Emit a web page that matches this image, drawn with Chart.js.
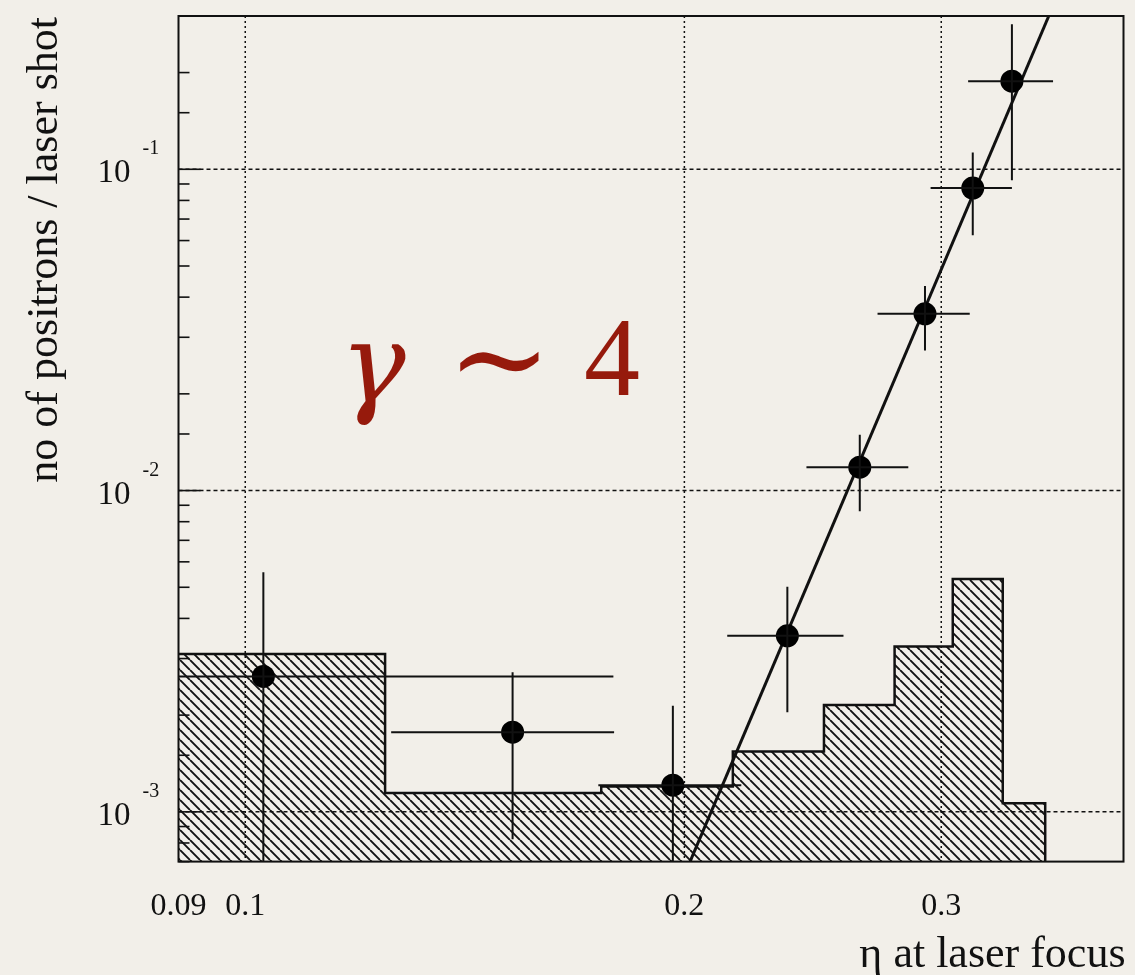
<!DOCTYPE html>
<html lang="en">
  <head>
    <meta charset="UTF-8" />
    <title>Positrons per laser shot vs eta</title>
    <script src="https://cdn.jsdelivr.net/npm/chart.js"></script>
    <style>
      html, body { margin: 0; padding: 0; background: #f2efe9; }
      canvas { display: block; }
    </style>
  </head>
  <body>
    <canvas id="chartEta" width="1135" height="975"></canvas>

    <script>
      // axis ranges and tick labels
      var xMin = 0.09, xMax = 0.4;
      var yMin = 0.0007, yMax = 0.3;
      var xTickValues = [0.09, 0.1, 0.2, 0.3];
      var xTickLabels = ['0.09', '0.1', '0.2', '0.3'];
      var xGridValues = [0.1, 0.2, 0.3];
      var yTickValues = [0.001, 0.01, 0.1];
      var yTickExponents = ['-3', '-2', '-1'];

      // measured points (eta, positrons per shot) with error bar ends
      var eta = [0.1029, 0.1525, 0.1964, 0.2353, 0.2638, 0.2924, 0.3153, 0.3354];
      var positrons = [0.00264, 0.00177, 0.00121, 0.00353, 0.01182, 0.0355, 0.0874, 0.188];
      var etaLow = [0.085, 0.1259, 0.1746, 0.2140, 0.2425, 0.2713, 0.2950, 0.3130];
      var etaHigh = [0.1788, 0.1790, 0.2188, 0.2571, 0.2848, 0.3138, 0.3354, 0.3579];
      var posLow = [0.0005, 0.000822, 0.0005, 0.00204, 0.00862, 0.0273, 0.0623, 0.0924];
      var posHigh = [0.00557, 0.00272, 0.00214, 0.00502, 0.01491, 0.0433, 0.1127, 0.2829];

      // background histogram (hatched): bin edges and contents
      var bgEdges = [0.085, 0.1247, 0.1754, 0.2159, 0.2493, 0.2787, 0.3055, 0.3306, 0.3535];
      var bgValues = [0.00310, 0.001144, 0.001199, 0.001541, 0.00215, 0.00327, 0.00531, 0.001064];

      // fit line end points
      var fitEta = [0.2018, 0.3555];
      var fitPos = [0.0007, 0.30];

      var serif = "'Liberation Serif', 'Times New Roman', serif";

      // hatch pattern for the histogram
      function hatch() {
        var s = 10;
        var c = document.createElement('canvas');
        c.width = s; c.height = s;
        var p = c.getContext('2d');
        p.strokeStyle = '#111';
        p.lineWidth = 1.9;
        p.beginPath();
        for (var k = -1; k <= 1; k++) {
          p.moveTo(k * s, 0);
          p.lineTo(k * s + s, s);
        }
        p.stroke();
        return p.createPattern(c, 'repeat');
      }

      var histData = bgEdges.map(function (e, i) {
        return { x: e, y: i < bgValues.length ? bgValues[i] : 0.0001 };
      });
      var pointData = eta.map(function (e, i) { return { x: e, y: positrons[i] }; });
      var fitData = fitEta.map(function (e, i) { return { x: e, y: fitPos[i] }; });

      function line(ctx, x1, y1, x2, y2) {
        ctx.beginPath();
        ctx.moveTo(x1, y1);
        ctx.lineTo(x2, y2);
        ctx.stroke();
      }

      var decorations = {
        id: 'decorations',
        beforeDatasetsDraw: function (chart) {
          var ctx = chart.ctx, a = chart.chartArea;
          var x = chart.scales.x, y = chart.scales.y;
          ctx.save();
          ctx.strokeStyle = '#111';
          ctx.lineWidth = 1.5;
          ctx.setLineDash([2, 3]);
          xGridValues.forEach(function (v) {
            var px = x.getPixelForValue(v);
            line(ctx, px, a.top, px, a.bottom);
          });
          ctx.setLineDash([4, 3]);
          yTickValues.forEach(function (v) {
            var py = y.getPixelForValue(v);
            line(ctx, a.left, py, a.right, py);
          });
          ctx.restore();
        },
        afterDatasetsDraw: function (chart) {
          var ctx = chart.ctx, a = chart.chartArea;
          var x = chart.scales.x, y = chart.scales.y;
          ctx.save();
          ctx.beginPath();
          ctx.rect(a.left, a.top, a.right - a.left, a.bottom - a.top);
          ctx.clip();
          ctx.strokeStyle = '#111';
          ctx.lineWidth = 2;
          eta.forEach(function (e, i) {
            var px = x.getPixelForValue(e), py = y.getPixelForValue(positrons[i]);
            line(ctx, x.getPixelForValue(etaLow[i]), py, x.getPixelForValue(etaHigh[i]), py);
            line(ctx, px, y.getPixelForValue(posLow[i]), px, y.getPixelForValue(posHigh[i]));
          });
          ctx.restore();

          ctx.save();
          // frame
          ctx.strokeStyle = '#111';
          ctx.lineWidth = 2;
          ctx.strokeRect(a.left, a.top, a.right - a.left, a.bottom - a.top);
          // y ticks from the log scale
          ctx.lineWidth = 1.6;
          y.ticks.forEach(function (t) {
            var lg = Math.log10(t.value);
            var major = Math.abs(lg - Math.round(lg)) < 1e-6;
            var py = y.getPixelForValue(t.value);
            if (py < a.top - 0.5 || py > a.bottom + 0.5) return;
            line(ctx, a.left, py, a.left + (major ? 22 : 11), py);
          });
          // y labels 10^n
          ctx.fillStyle = '#111';
          yTickValues.forEach(function (v, i) {
            var py = y.getPixelForValue(v);
            ctx.font = '33px ' + serif;
            ctx.textAlign = 'right';
            ctx.textBaseline = 'alphabetic';
            ctx.fillText('10', a.left - 48, py + 13);
            ctx.font = '20px ' + serif;
            ctx.textAlign = 'left';
            ctx.fillText(yTickExponents[i], a.left - 36, py - 15);
          });
          // axis titles
          ctx.font = '44px ' + serif;
          ctx.textAlign = 'right';
          ctx.fillText('\u03b7 at laser focus', a.right + 2, 967);
          ctx.save();
          ctx.translate(57, a.top + 1);
          ctx.rotate(-Math.PI / 2);
          ctx.textAlign = 'right';
          ctx.fillText('no of positrons / laser shot', 0, 0);
          ctx.restore();
          // annotation
          ctx.fillStyle = '#961a0c';
          ctx.textAlign = 'left';
          ctx.font = "italic 110px 'DejaVu Serif', serif";
          ctx.fillText('\u03b3', 340, 402);
          ctx.font = "125px 'DejaVu Serif', serif";
          ctx.fillText('\u223c', 447, 401);
          ctx.font = '112px ' + serif;
          ctx.fillText('4', 584, 395);
          ctx.restore();
        }
      };

      var ctxEta = document.getElementById('chartEta').getContext('2d');
      var chartEta = new Chart(ctxEta, {
        data: {
          datasets: [
            {
              type: 'line',
              label: 'background',
              data: histData,
              stepped: true,
              borderColor: '#111',
              borderWidth: 2.5,
              backgroundColor: hatch(),
              fill: 'start',
              pointRadius: 0,
              order: 3
            },
            {
              type: 'line',
              label: 'fit',
              data: fitData,
              borderColor: '#111',
              borderWidth: 3,
              pointRadius: 0,
              fill: false,
              order: 2
            },
            {
              type: 'scatter',
              label: 'data',
              data: pointData,
              pointRadius: 11.5,
              pointBackgroundColor: '#000',
              pointBorderWidth: 0,
              order: 1
            }
          ]
        },
        options: {
          responsive: false,
          animation: false,
          layout: { padding: { top: 16, right: 8, left: 0, bottom: 23 } },
          plugins: { legend: { display: false }, tooltip: { enabled: false } },
          scales: {
            x: {
              type: 'logarithmic',
              min: xMin,
              max: xMax,
              grid: { display: false, drawTicks: false },
              border: { display: false },
              afterBuildTicks: function (scale) {
                scale.ticks = xTickValues.map(function (v) { return { value: v }; });
              },
              ticks: {
                autoSkip: false,
                maxRotation: 0,
                padding: 26,
                color: '#111',
                font: { family: serif, size: 32 },
                callback: function (v, i) { return xTickLabels[i]; }
              }
            },
            y: {
              type: 'logarithmic',
              min: yMin,
              max: yMax,
              grid: { display: false, drawTicks: false },
              border: { display: false },
              ticks: { display: false },
              afterFit: function (scale) { scale.width = 178.5; }
            }
          }
        },
        plugins: [decorations]
      });
    </script>
  </body>
</html>
